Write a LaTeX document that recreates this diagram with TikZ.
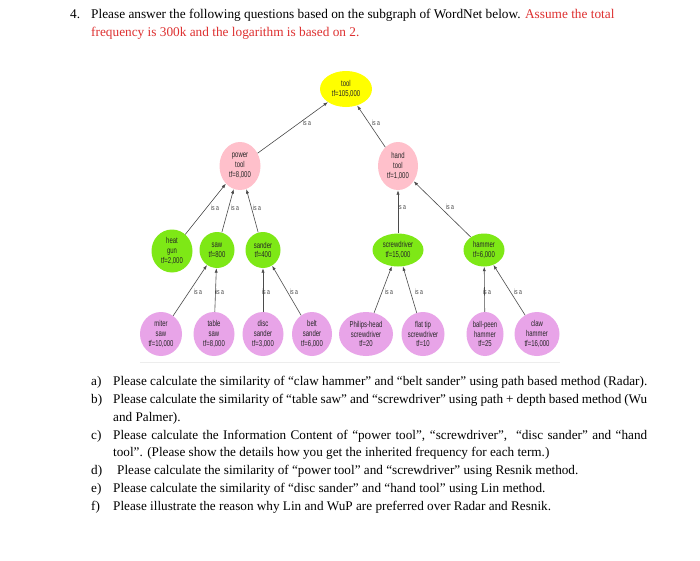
\documentclass[tikz,border=0pt]{standalone}
\usepackage{fontspec}
\setmainfont{Liberation Serif}
\newfontfamily\nodefont[FakeStretch=0.7]{Liberation Sans}
\usetikzlibrary{shapes.geometric,arrows.meta}
\definecolor{qred}{RGB}{222,48,48}
\definecolor{nyellow}{RGB}{255,255,0}
\definecolor{npink}{RGB}{255,192,203}
\definecolor{ngreen}{RGB}{126,232,22}
\definecolor{nplum}{RGB}{232,164,232}
\definecolor{edgecol}{RGB}{75,75,75}
\begin{document}
\begin{tikzpicture}[x=1pt,y=-1pt,
  wn/.style={ellipse, inner sep=0pt, align=center, text=black!85,
    font=\nodefont\fontsize{8.5}{9.8}\selectfont},
  top/.style={wn, fill=nyellow},
  mid/.style={wn, fill=npink},
  low/.style={wn, fill=ngreen},
  leaf/.style={wn, fill=nplum, minimum height=44pt},
  isaedge/.style={draw=edgecol, line width=0.6pt, -{Latex[length=4.5pt,width=3.2pt]}},
  isa/.style={inner sep=0pt, text=black!75, font=\nodefont\fontsize{7.3}{8}\selectfont},
  htext/.style={anchor=base west, inner sep=0pt, font=\fontsize{13.3}{15}\selectfont},
  qtext/.style={anchor=base west, inner sep=0pt, font=\fontsize{13.2}{15}\selectfont}
]
\useasboundingbox (0,0) rectangle (700,560);
\fill[white] (0,0) rectangle (700,560);

% header
\node[htext] (n4) at (70,18) {4.};
\node[htext] (h1) at (91,18) {Please answer the following questions based on the subgraph of WordNet below. \textcolor{qred}{Assume the total}};
\node[htext, text=qred] (h2) at (91,36) {frequency is 300k and the logarithm is based on 2.};

% nodes
\node[top, minimum width=52pt, minimum height=36pt] (tool) at (346,89) {tool\\tf=105,000};
\node[mid, minimum width=41pt, minimum height=48pt] (power) at (240,166) {power\\tool\\tf=8,000};
\node[mid, minimum width=40pt, minimum height=48pt] (hand) at (398,166) {hand\\tool\\tf=1,000};

\node[low, minimum width=41pt, minimum height=43pt] (heatgun) at (172,251) {heat\\gun\\tf=2,000};
\node[low, minimum width=35pt, minimum height=36pt] (saw) at (217,250) {saw\\tf=800};
\node[low, minimum width=35pt, minimum height=36pt] (sander) at (263,250) {sander\\tf=400};
\node[low, minimum width=51pt, minimum height=33pt] (screwdriver) at (398,250) {screwdriver\\tf=15,000};
\node[low, minimum width=41pt, minimum height=33pt] (hammer) at (484,250) {hammer\\tf=6,000};

\node[leaf, minimum width=42pt] (miter) at (161,334) {miter\\saw\\tf=10,000};
\node[leaf, minimum width=41pt] (table) at (214,334) {table\\saw\\tf=8,000};
\node[leaf, minimum width=41pt] (disc) at (263,334) {disc\\sander\\tf=3,000};
\node[leaf, minimum width=40pt] (belt) at (312,334) {belt\\sander\\tf=6,000};
\node[leaf, minimum width=54pt] (philips) at (366,334) {Philips-head\\screwdriver\\tf=20};
\node[leaf, minimum width=43pt] (flat) at (423,334) {flat tip\\screwdriver\\tf=10};
\node[leaf, minimum width=37pt] (ballpeen) at (485,334) {ball-peen\\hammer\\tf=25};
\node[leaf, minimum width=45pt] (claw) at (537,334) {claw\\hammer\\tf=16,000};

% edges
\draw[isaedge] (power) -- (tool);
\draw[isaedge] (hand) -- (tool);
\draw[isaedge] (heatgun) -- (power);
\draw[isaedge] (saw) -- (power);
\draw[isaedge] (sander) -- (power);
\draw[isaedge] (screwdriver) -- (hand);
\draw[isaedge] (hammer) -- (hand);
\draw[isaedge] (miter) -- (saw);
\draw[isaedge] (table) -- (saw);
\draw[isaedge] (disc) -- (sander);
\draw[isaedge] (belt) -- (sander);
\draw[isaedge] (philips) -- (screwdriver);
\draw[isaedge] (flat) -- (screwdriver);
\draw[isaedge] (ballpeen) -- (hammer);
\draw[isaedge] (claw) -- (hammer);

% edge labels
\node[isa] (l1) at (307,123) {is a};
\node[isa] (l2) at (376,123) {is a};
\node[isa] (l3) at (215,208) {is a};
\node[isa] (l4) at (235,208) {is a};
\node[isa] (l5) at (257,208) {is a};
\node[isa] (l6) at (402,207) {is a};
\node[isa] (l7) at (450,207) {is a};
\node[isa] (l8) at (198,292) {is a};
\node[isa] (l9) at (220,292) {is a};
\node[isa] (l10) at (266,292) {is a};
\node[isa] (l11) at (294,292) {is a};
\node[isa] (l12) at (389,292) {is a};
\node[isa] (l13) at (419,292) {is a};
\node[isa] (l14) at (487,292) {is a};
\node[isa] (l15) at (518,292) {is a};

% faint baseline under graph
\draw[black!7, line width=0.8pt] (140,362) -- (560,362);

% questions
\node[qtext] (ka) at (91,385) {a)};
\node[qtext] (ta) at (113,385) {Please calculate the similarity of “claw hammer” and “belt sander” using path based method (Radar).};
\node[qtext] (kb) at (91,403) {b)};
\node[qtext] (tb1) at (113,403) {\makebox[534pt][s]{Please calculate the similarity of “table saw” and “screwdriver” using path + depth based method (Wu}};
\node[qtext] (tb2) at (113,421) {and Palmer).};
\node[qtext] (kc) at (91,439) {c)};
\node[qtext] (tc1) at (113,439) {\makebox[534pt][s]{Please calculate the Information Content of “power tool”, “screwdriver”,\ \ “disc sander” and “hand}};
\node[qtext] (tc2) at (113,456) {tool”. (Please show the details how you get the inherited frequency for each term.)};
\node[qtext] (kd) at (91,474) {d)};
\node[qtext] (td) at (117,474) {Please calculate the similarity of “power tool” and “screwdriver” using Resnik method.};
\node[qtext] (ke) at (91,492) {e)};
\node[qtext] (te) at (113,492) {Please calculate the similarity of “disc sander” and “hand tool” using Lin method.};
\node[qtext] (kf) at (91,510) {f)};
\node[qtext] (tf) at (113,510) {Please illustrate the reason why Lin and WuP are preferred over Radar and Resnik.};
\end{tikzpicture}
\end{document}
